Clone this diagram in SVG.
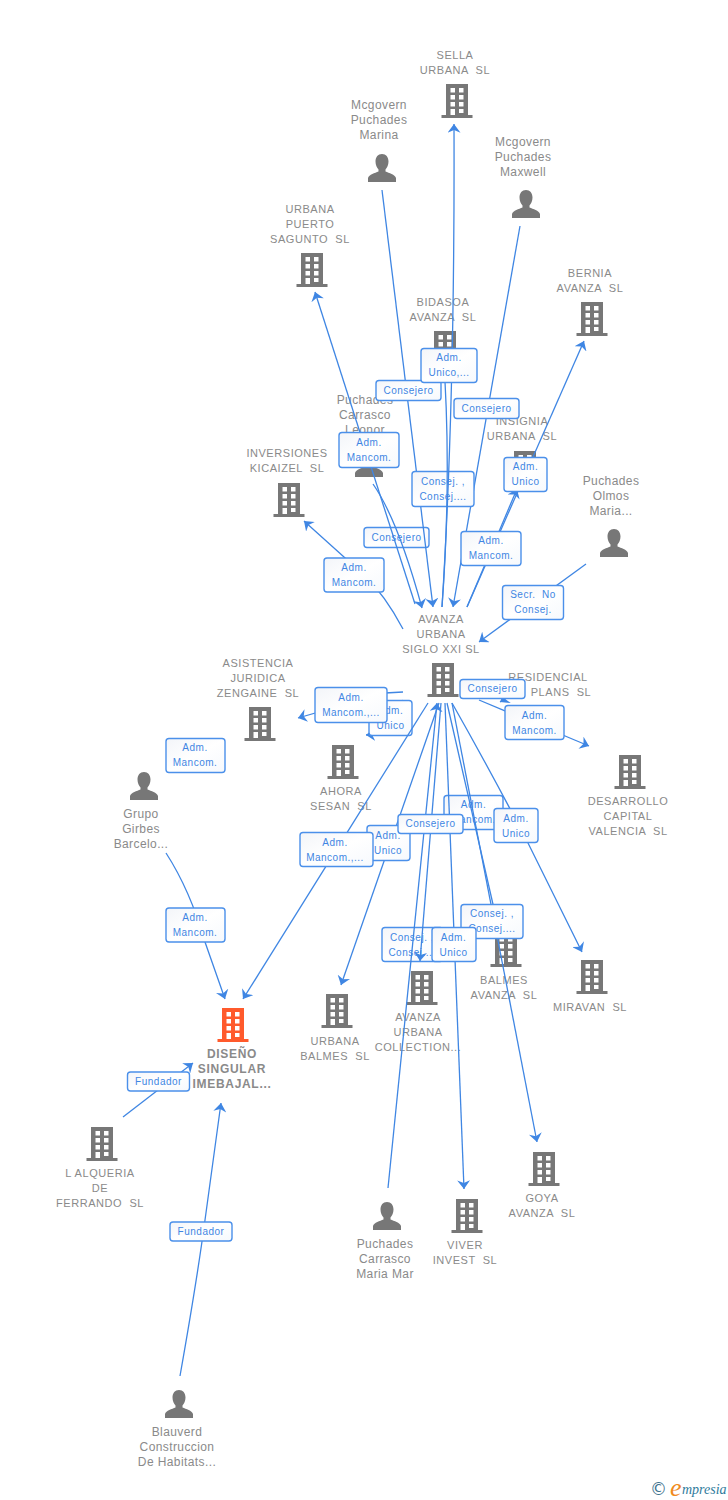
<svg xmlns="http://www.w3.org/2000/svg" width="728" height="1500" viewBox="0 0 728 1500">
<style>
text{white-space:pre}
.n{font:11px "Liberation Sans",Arial,sans-serif;fill:#8a8a8a;text-anchor:middle;letter-spacing:.55px}
.p{font:12px "Liberation Sans",Arial,sans-serif;fill:#8a8a8a;text-anchor:middle;letter-spacing:.4px}
.m{font:bold 12px "Liberation Sans",Arial,sans-serif;fill:#8a8a8a;text-anchor:middle;letter-spacing:.7px}
.l{fill:none;stroke:#3f86e3;stroke-width:1.3;marker-end:url(#a)}
.s{fill:none;stroke:#3f86e3;stroke-width:1.3}
.b{fill:url(#g);stroke:#4b90ea;stroke-width:1.4}
.t{font:10px "Liberation Sans",Arial,sans-serif;fill:#3f86e3;text-anchor:middle;letter-spacing:.5px}
</style>
<defs>
<marker id="a" markerUnits="userSpaceOnUse" markerWidth="9" markerHeight="13" viewBox="0 0 8 12" refX="8" refY="6" orient="auto"><path d="M8 6L0 0L2.500 6L0 12Z" fill="#3f86e3"/></marker>
<linearGradient id="g" x1="0" y1="0" x2="1" y2="1"><stop offset="0" stop-color="#f3f5f9"/><stop offset=".5" stop-color="#fff"/><stop offset="1" stop-color="#f6f9fd"/></linearGradient>
<symbol id="bd" viewBox="0 0 32 34" width="32" height="34" overflow="visible">
<path fill-rule="evenodd" d="M5 0H27V31H31.500V34H.500V31H5ZM9.500 4V8.500H14V4ZM18 4V8.500H22.500V4ZM9.500 11V15.500H14V11ZM18 11V15.500H22.500V11ZM9.500 18V22.500H14V18ZM18 18V22.500H22.500V18ZM9.500 25V31H14V25ZM18 25V29H22.500V25Z"/>
</symbol>
<symbol id="pr" viewBox="0 0 28 28" width="28" height="28" overflow="visible">
<path d="M14 0C18 0 20.500 3 20.500 7.500C20.500 11 19 14 17.500 15.500V17.500C21 19 27 20.500 28 24V28H0V24C1 20.500 7 19 10.500 17.500V15.500C9 14 7.500 11 7.500 7.500C7.500 3 10 0 14 0Z"/>
</symbol>
</defs>
<rect width="728" height="1500" fill="#fff"/>
<g id="nodes" fill="#777">
<g id="sella"><use href="#bd" x="441" y="84"/><text class="n"><tspan x="455" y="59">SELLA</tspan><tspan x="455" y="74">URBANA  SL</tspan></text></g>
<g id="marina"><use href="#pr" x="368" y="154"/><text class="p"><tspan x="379" y="109">Mcgovern</tspan><tspan x="379" y="124">Puchades</tspan><tspan x="379" y="139">Marina</tspan></text></g>
<g id="maxwell"><use href="#pr" x="512" y="190"/><text class="p"><tspan x="523" y="146">Mcgovern</tspan><tspan x="523" y="161">Puchades</tspan><tspan x="523" y="176">Maxwell</tspan></text></g>
<g id="puerto"><use href="#bd" x="296" y="253"/><text class="n"><tspan x="310" y="213">URBANA</tspan><tspan x="310" y="228">PUERTO</tspan><tspan x="310" y="243">SAGUNTO  SL</tspan></text></g>
<g id="bernia"><use href="#bd" x="576" y="302"/><text class="n"><tspan x="590" y="277">BERNIA</tspan><tspan x="590" y="292">AVANZA  SL</tspan></text></g>
<g id="bidasoa"><use href="#bd" x="429" y="331"/><text class="n"><tspan x="443" y="306">BIDASOA</tspan><tspan x="443" y="321">AVANZA  SL</tspan></text></g>
<g id="leonor"><use href="#pr" x="355" y="449"/><text class="p"><tspan x="365" y="404">Puchades</tspan><tspan x="365" y="419">Carrasco</tspan><tspan x="365" y="434">Leonor</tspan></text></g>
<g id="insignia"><use href="#bd" x="509" y="451"/><text class="n"><tspan x="522" y="425">INSIGNIA</tspan><tspan x="522" y="440">URBANA  SL</tspan></text></g>
<g id="kicaizel"><use href="#bd" x="273" y="483"/><text class="n"><tspan x="287" y="457">INVERSIONES</tspan><tspan x="287" y="472">KICAIZEL  SL</tspan></text></g>
<g id="olmos"><use href="#pr" x="600" y="529"/><text class="p"><tspan x="611" y="485">Puchades</tspan><tspan x="611" y="500">Olmos</tspan><tspan x="611" y="515">Maria...</tspan></text></g>
<g id="avanza"><use href="#bd" x="427" y="663"/><text class="n"><tspan x="441" y="623">AVANZA</tspan><tspan x="441" y="638">URBANA</tspan><tspan x="441" y="653">SIGLO XXI SL</tspan></text></g>
<g id="asistencia"><use href="#bd" x="244" y="707"/><text class="n"><tspan x="258" y="667">ASISTENCIA</tspan><tspan x="258" y="682">JURIDICA</tspan><tspan x="258" y="697">ZENGAINE  SL</tspan></text></g>
<g id="residencial"><text class="n"><tspan x="548" y="681">RESIDENCIAL</tspan><tspan x="561" y="696">PLANS  SL</tspan></text></g>
<g id="ahora"><use href="#bd" x="327" y="745"/><text class="n"><tspan x="341" y="795">AHORA</tspan><tspan x="341" y="810">SESAN  SL</tspan></text></g>
<g id="desarrollo"><use href="#bd" x="614" y="755"/><text class="n"><tspan x="628" y="805">DESARROLLO</tspan><tspan x="628" y="820">CAPITAL</tspan><tspan x="628" y="835">VALENCIA  SL</tspan></text></g>
<g id="grupo"><use href="#pr" x="130" y="772"/><text class="p"><tspan x="141" y="818">Grupo</tspan><tspan x="141" y="833">Girbes</tspan><tspan x="141" y="848">Barcelo...</tspan></text></g>
<g id="balmes"><use href="#bd" x="490" y="933"/><text class="n"><tspan x="504" y="984">BALMES</tspan><tspan x="504" y="999">AVANZA  SL</tspan></text></g>
<g id="miravan"><use href="#bd" x="576" y="960"/><text class="n"><tspan x="590" y="1011">MIRAVAN  SL</tspan></text></g>
<g id="collection"><use href="#bd" x="406" y="971"/><text class="n"><tspan x="418" y="1021">AVANZA</tspan><tspan x="418" y="1036">URBANA</tspan><tspan x="418" y="1051">COLLECTION...</tspan></text></g>
<g id="ubalmes"><use href="#bd" x="321" y="994"/><text class="n"><tspan x="335" y="1045">URBANA</tspan><tspan x="335" y="1060">BALMES  SL</tspan></text></g>
<g id="diseno"><use href="#bd" x="217" y="1008" fill="#ff5a2c"/><text class="m"><tspan x="232" y="1058">DISEÑO</tspan><tspan x="232" y="1073">SINGULAR</tspan><tspan x="232" y="1088">IMEBAJAL...</tspan></text></g>
<g id="alqueria"><use href="#bd" x="86" y="1127"/><text class="n"><tspan x="100" y="1177">L ALQUERIA</tspan><tspan x="100" y="1192">DE</tspan><tspan x="100" y="1207">FERRANDO  SL</tspan></text></g>
<g id="goya"><use href="#bd" x="528" y="1152"/><text class="n"><tspan x="542" y="1202">GOYA</tspan><tspan x="542" y="1217">AVANZA  SL</tspan></text></g>
<g id="mariamar"><use href="#pr" x="373" y="1202"/><text class="p"><tspan x="385" y="1248">Puchades</tspan><tspan x="385" y="1263">Carrasco</tspan><tspan x="385" y="1278">Maria Mar</tspan></text></g>
<g id="viver"><use href="#bd" x="451" y="1199"/><text class="n"><tspan x="465" y="1249">VIVER</tspan><tspan x="465" y="1264">INVEST  SL</tspan></text></g>
<g id="blauverd"><use href="#pr" x="165" y="1390"/><text class="p"><tspan x="177" y="1436">Blauverd</tspan><tspan x="177" y="1451">Construccion</tspan><tspan x="177" y="1466">De Habitats...</tspan></text></g>
</g>
<g id="connectors">
<rect class="b" x="364" y="527.500" width="65" height="20" rx="3"/><text class="t" x="396.500" y="541">Consejero</text>
<path class="l" d="M373 484Q398 520 422 608"/>
<path class="l" d="M382 190L433 607"/>
<path class="l" d="M415 604L315 292"/>
<rect class="b" x="376" y="380.500" width="65" height="20" rx="3"/><text class="t" x="408.500" y="394">Consejero</text>
<rect class="b" x="339" y="432.500" width="60" height="35" rx="3"/><text class="t"><tspan x="369" y="446">Adm.</tspan><tspan x="369" y="461">Mancom.</tspan></text>
<path class="l" d="M520 226L453 607"/>
<rect class="b" x="454" y="398.500" width="65" height="20" rx="3"/><text class="t" x="486.500" y="412">Consejero</text>
<rect class="b" x="412" y="471.500" width="62" height="35" rx="3"/><text class="t"><tspan x="443" y="485">Consej. ,</tspan><tspan x="443" y="500">Consej....</tspan></text>
<path class="s" d="M442 607Q452 470 443 350"/>
<path class="l" d="M442 607Q455 400 454 124"/>
<rect class="b" x="421" y="348.500" width="56" height="34" rx="3"/><text class="t"><tspan x="449" y="361">Adm.</tspan><tspan x="449" y="376">Unico,...</tspan></text>
<path class="l" d="M467 607L584 341"/>
<path class="l" d="M467 607L517 489"/>
<rect class="b" x="504" y="457.500" width="43" height="34" rx="3"/><text class="t"><tspan x="525.500" y="470">Adm.</tspan><tspan x="525.500" y="485">Unico</tspan></text>
<rect class="b" x="461" y="531.500" width="60" height="34" rx="3"/><text class="t"><tspan x="491" y="544">Adm.</tspan><tspan x="491" y="559">Mancom.</tspan></text>
<path class="l" d="M403 629Q385 595 364 575L304 521"/>
<rect class="b" x="324" y="558" width="60" height="34" rx="3"/><text class="t"><tspan x="354" y="571">Adm.</tspan><tspan x="354" y="586">Mancom.</tspan></text>
<path class="l" d="M586 564L479 642"/>
<rect class="b" x="502.500" y="585.500" width="61" height="34" rx="3"/><text class="t"><tspan x="533" y="598">Secr.  No</tspan><tspan x="533" y="613">Consej.</tspan></text>
<path class="l" d="M403 700Q390 733 366 735"/>
<rect class="b" x="369" y="700.500" width="43" height="35" rx="3"/><text class="t"><tspan x="390.500" y="714">Adm.</tspan><tspan x="390.500" y="729">Unico</tspan></text>
<path class="l" d="M403 692L385 693L298 718"/>
<rect class="b" x="315" y="687.500" width="72" height="35" rx="3"/><text class="t"><tspan x="351" y="701">Adm.</tspan><tspan x="351" y="716">Mancom.,...</tspan></text>
<path class="l" d="M520 690L500 702"/>
<rect class="b" x="460" y="679.500" width="65" height="19" rx="3"/><text class="t" x="492.500" y="692">Consejero</text>
<path class="l" d="M479 700L589 746"/>
<rect class="b" x="505" y="705.500" width="59" height="34" rx="3"/><text class="t"><tspan x="534.500" y="719">Adm.</tspan><tspan x="534.500" y="734">Mancom.</tspan></text>
<rect class="b" x="444" y="795.500" width="59" height="34" rx="3"/><text class="t"><tspan x="473.500" y="808">Adm.</tspan><tspan x="473.500" y="823">Mancom.</tspan></text>
<path class="l" d="M452 703L537 1142"/>
<path class="l" d="M447 703L500 935"/>
<rect class="b" x="461" y="904.500" width="62" height="34" rx="3"/><text class="t"><tspan x="492" y="917">Consej. ,</tspan><tspan x="492" y="932">Consej....</tspan></text>
<rect class="b" x="382" y="927.500" width="61" height="34" rx="3"/><text class="t"><tspan x="412" y="941">Consej. ,</tspan><tspan x="412" y="956">Consej....</tspan></text>
<path class="l" d="M388 1188L437 703"/>
<path class="l" d="M441 703L420 961"/>
<path class="l" d="M445 703L464 1189"/>
<rect class="b" x="432" y="927.500" width="44" height="34" rx="3"/><text class="t"><tspan x="453.500" y="941">Adm.</tspan><tspan x="453.500" y="956">Unico</tspan></text>
<path class="l" d="M452 703Q490 770 528 843L582 952"/>
<rect class="b" x="494" y="808.500" width="44" height="34" rx="3"/><text class="t"><tspan x="516" y="822">Adm.</tspan><tspan x="516" y="837">Unico</tspan></text>
<path class="l" d="M439 703L341 985"/>
<rect class="b" x="367" y="825.500" width="43" height="35" rx="3"/><text class="t"><tspan x="388" y="839">Adm.</tspan><tspan x="388" y="854">Unico</tspan></text>
<rect class="b" x="398" y="814.500" width="65" height="19" rx="3"/><text class="t" x="430.500" y="827">Consejero</text>
<path class="l" d="M428 703L243 999"/>
<rect class="b" x="300" y="832.500" width="73" height="34" rx="3"/><text class="t"><tspan x="335" y="846">Adm.</tspan><tspan x="335" y="861">Mancom.,...</tspan></text>
<rect class="b" x="166" y="738.500" width="59" height="34" rx="3"/><text class="t"><tspan x="195" y="751">Adm.</tspan><tspan x="195" y="766">Mancom.</tspan></text>
<path class="l" d="M166 853Q190 890 205 942L225 999"/>
<rect class="b" x="166" y="908" width="59" height="34" rx="3"/><text class="t"><tspan x="195" y="921">Adm.</tspan><tspan x="195" y="936">Mancom.</tspan></text>
<path class="l" d="M123 1117L193 1063"/>
<rect class="b" x="127.500" y="1072" width="62" height="19" rx="3"/><text class="t" x="158.500" y="1085">Fundador</text>
<path class="l" d="M180 1376Q197 1280 205 1220L221 1103"/>
<rect class="b" x="170" y="1222" width="62" height="19" rx="3"/><text class="t" x="201" y="1235">Fundador</text>
</g>
<g id="logo">
<text x="650" y="1495" style="font:17px 'DejaVu Sans',sans-serif;fill:#3f7490">©</text>
<text x="670" y="1496" style="font:italic 26px 'Liberation Serif',serif;fill:#f08a1d">e</text>
<text x="682" y="1494" style="font:italic 14px 'Liberation Serif',serif;fill:#2f7b9c">mpresia</text>
</g>
</svg>
